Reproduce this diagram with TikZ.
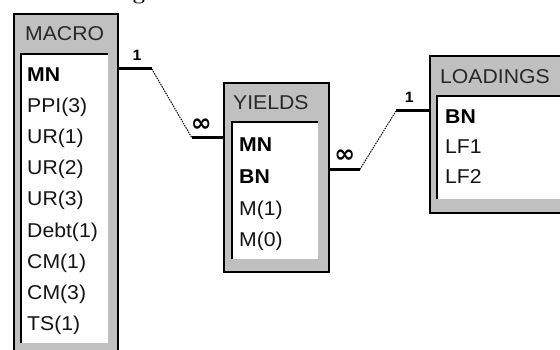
\documentclass[tikz,border=0pt]{standalone}
\usepackage{fontspec}
\newfontfamily\uifont[FakeStretch=1.06]{Liberation Sans}
\newfontfamily\symfont{DejaVu Sans}
\usetikzlibrary{calc}
\definecolor{panel}{RGB}{192,192,192}
\definecolor{titlegray}{RGB}{40,40,40}
\definecolor{fieldgray}{RGB}{20,20,20}

\begin{document}
\begin{tikzpicture}[x=1pt, y=-1pt,
		tablebox/.style={draw=black, line width=1.8pt, fill=panel, anchor=north west, inner sep=0pt},
		listbox/.style={fill=white, anchor=north west, inner sep=0pt},
		title/.style={anchor=base west, inner sep=0pt, text=titlegray, font=\uifont\fontsize{20}{24}\selectfont},
		field/.style={anchor=base west, inner sep=0pt, text=fieldgray, font=\uifont\fontsize{20}{24}\selectfont},
		key/.style={anchor=base west, inner sep=0pt, text=black, font=\uifont\bfseries\fontsize{20}{24}\selectfont},
		fat/.style={line width=3pt},
		dotline/.style={line width=1pt, dash pattern=on 1.5pt off 1pt},
		card/.style={inner sep=0pt, font=\uifont\bfseries\fontsize{15}{17}\selectfont},
		many/.style={inner sep=0pt, font=\symfont\bfseries\fontsize{25}{27}\selectfont}]
		\useasboundingbox (0,0) rectangle (560,350);
		\node[anchor=base, font=\bfseries\fontsize{22}{24}\selectfont] (caption) at (139,-0.5) {g};
		% MACRO
		\node[tablebox, minimum width=104pt, minimum height=360pt] (macro) at (13,13) {};
		\node[listbox, minimum width=87pt, minimum height=289pt] (macrolist) at (21,54) {};
		\draw[line width=2pt] (macrolist.south west) |- (macrolist.north east);
		\node[title] (macrotitle) at (25,41) {MACRO};
		\node[key] (macro-mn) at (27,82) {MN};
		\foreach \f [count=\i] in {PPI(3),UR(1),UR(2),UR(3),Debt(1),CM(1),CM(3),TS(1)}
			\node[field] (macro-\i) at (27,82+31*\i) {\f};
		% YIELDS
		\node[tablebox, minimum width=105pt, minimum height=189pt] (yields) at (223,82) {};
		\node[listbox, minimum width=86pt, minimum height=137pt] (yieldslist) at (232,122) {};
		\draw[line width=2pt] (yieldslist.south west) |- (yieldslist.north east);
		\node[title] (yieldstitle) at (233,110) {YIELDS};
		\node[key] (yields-mn) at (239,152) {MN};
		\node[key] (yields-bn) at (239,183.5) {BN};
		\node[field] (yields-1) at (239,215) {M(1)};
		\node[field] (yields-2) at (239,246.5) {M(0)};
		% LOADINGS
		\node[tablebox, minimum width=150pt, minimum height=157pt] (loadings) at (429,55) {};
		\node[listbox, minimum width=140pt, minimum height=103pt] (loadingslist) at (437,96) {};
		\draw[line width=2pt] (loadingslist.south west) |- (loadingslist.north east);
		\node[title] (loadingstitle) at (440,84) {LOADINGS};
		\node[key] (loadings-bn) at (445,124) {BN};
		\node[field] (loadings-1) at (445,154) {LF1};
		\node[field] (loadings-2) at (445,184) {LF2};
		% relationships
		\coordinate (mA) at ($(macro.east |- macro-mn.base)+(0,-13)$);
		\coordinate (mB) at ($(mA)+(33,0)$);
		\coordinate (yA) at ($(yields.west |- yields-mn.base)+(0,-14)$);
		\coordinate (yB) at ($(yA)+(-31,0)$);
		\coordinate (yC) at ($(yields.east |- yields-bn.base)+(0,-14)$);
		\coordinate (yD) at ($(yC)+(30,0)$);
		\coordinate (lA) at ($(loadings.west |- loadings-bn.base)+(0,-13)$);
		\coordinate (lB) at ($(lA)+(-33,0)$);
		\draw[fat] (mA) -- node[card, pos=0.55, above=7pt] (one-macro) {1} (mB);
		\draw[dotline] (mB) -- (yB);
		\draw[fat] (yB) -- node[many, pos=0.3, above=5pt] (many-yields) {∞} (yA);
		\draw[fat] (yC) -- node[many, pos=0.5, above=5pt] (many-loadings) {∞} (yD);
		\draw[dotline] (yD) -- (lB);
		\draw[fat] (lB) -- node[card, pos=0.4, above=7pt] (one-loadings) {1} (lA);
	\end{tikzpicture}
\end{document}
